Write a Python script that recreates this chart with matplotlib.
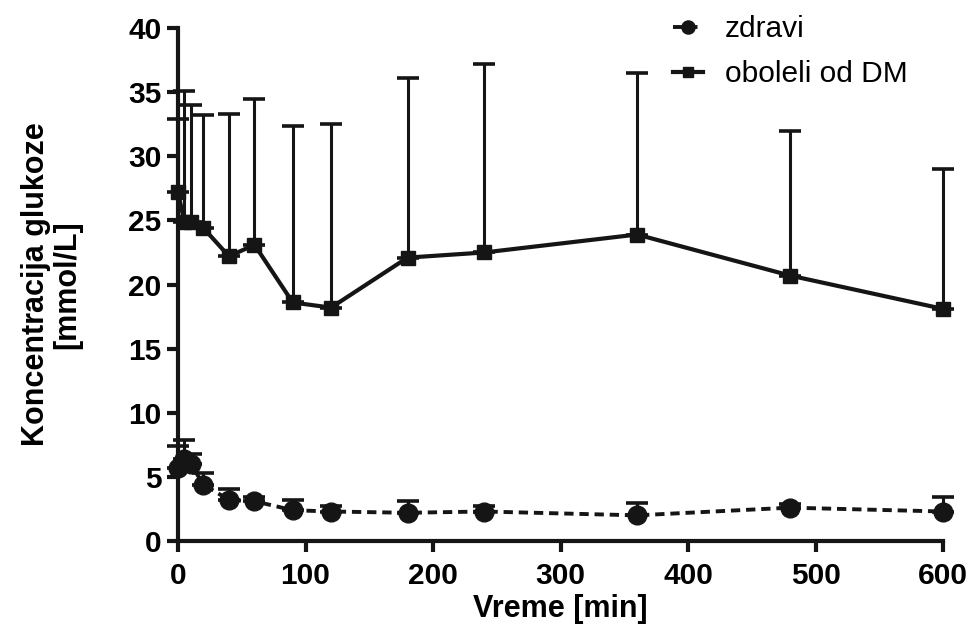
import matplotlib
matplotlib.use("Agg")
import matplotlib.pyplot as plt
import numpy as np

plt.rcParams["font.family"] = ["Liberation Sans", "DejaVu Sans"]

# sampling times [min]
vreme = [0, 5, 10, 20, 40, 60, 90, 120, 180, 240, 360, 480, 600]

# healthy group: mean and SD
zdravi = [5.7, 6.4, 6.0, 4.4, 3.2, 3.1, 2.4, 2.3, 2.2, 2.3, 2.0, 2.6, 2.3]
zdravi_sd = [1.7, 1.5, 0.8, 0.9, 0.85, 0.3, 0.8, 0.4, 0.9, 0.4, 1.0, 0.3, 1.15]

# diabetes group: mean and SD
dm = [27.2, 24.9, 24.9, 24.4, 22.2, 23.1, 18.6, 18.2, 22.1, 22.5, 23.9, 20.7, 18.1]
dm_sd = [5.7, 10.2, 9.1, 8.8, 11.1, 11.4, 13.8, 14.3, 14.0, 14.7, 12.6, 11.3, 10.9]

fig = plt.figure(figsize=(9.71, 6.34), dpi=100)
ax = fig.add_axes([0.1833, 0.1467, 0.788, 0.809])

c = "#151515"

# upper-only error bars, Prism style
ax.errorbar(vreme, dm, yerr=[np.zeros(len(dm)), dm_sd], fmt="none",
            ecolor=c, elinewidth=2.2, capsize=8, capthick=2.6, clip_on=False)
ax.errorbar(vreme, zdravi, yerr=[np.zeros(len(zdravi)), zdravi_sd], fmt="none",
            ecolor=c, elinewidth=2.2, capsize=8, capthick=2.6, clip_on=False)

ax.plot(vreme, zdravi, color=c, lw=2.8, linestyle=(0, (2.4, 1.5)),
        dash_capstyle="butt", marker="o", markersize=13.5, label="zdravi",
        clip_on=False, zorder=3)
ax.plot(vreme, dm, color=c, lw=3.0, marker="s", markersize=10.5,
        label="oboleli od DM", clip_on=False, zorder=3)

ax.set_xlim(0, 600)
ax.set_ylim(0, 40)
ax.set_xticks(range(0, 601, 100))
ax.set_yticks(range(0, 41, 5))

for s in ["top", "right"]:
    ax.spines[s].set_visible(False)
for s in ["left", "bottom"]:
    ax.spines[s].set_linewidth(3)
    ax.spines[s].set_color(c)
    ax.spines[s].set_capstyle("projecting")
ax.tick_params(width=3, length=8, color=c, labelsize=21.5)
ax.tick_params(axis="x", pad=7)
ax.tick_params(axis="y", pad=4)
for lbl in ax.get_xticklabels() + ax.get_yticklabels():
    lbl.set_fontweight("bold")

ax.set_xlabel("Vreme [min]", fontsize=22, fontweight="bold", labelpad=3)
ax.set_ylabel("Koncentracija glukoze\n[mmol/L]", fontsize=22,
              fontweight="bold", labelpad=33, linespacing=1.05)

ax.legend(loc="upper left", bbox_to_anchor=(0.631, 1.048), frameon=False,
          fontsize=21.5, handlelength=1.0, handletextpad=0.75,
          labelspacing=0.57, borderaxespad=0, markerscale=0.7)

fig.savefig("out.png", dpi=100)
plt.close(fig)
